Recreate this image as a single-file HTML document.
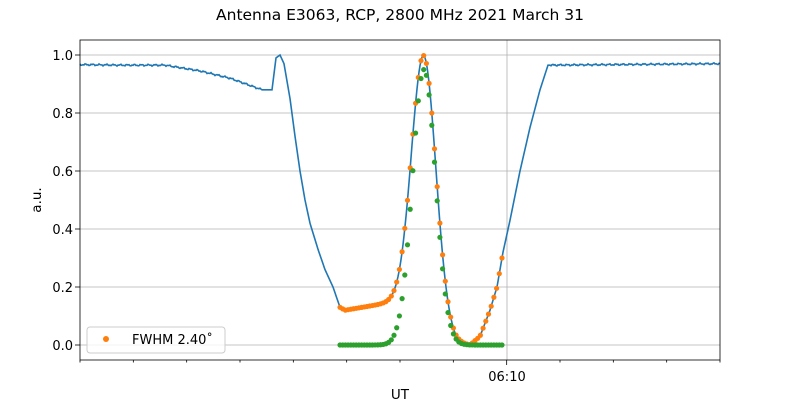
<!DOCTYPE html>
<html><head><meta charset="utf-8"><style>
body{margin:0;background:#fff}
svg{display:block;font-family:"DejaVu Sans","Liberation Sans",sans-serif}
</style></head><body>
<svg id="s" width="800" height="400" viewBox="0 0 800 400" xmlns="http://www.w3.org/2000/svg">
<rect width="800" height="400" fill="#fff"/>
<text x="400" y="20" font-size="15.5" text-anchor="middle">Antenna E3063, RCP, 2800 MHz 2021 March 31</text>
<g stroke="#b0b0b0" stroke-width="0.8">
<line x1="80" x2="720" y1="55" y2="55"/><line x1="80" x2="720" y1="113" y2="113"/>
<line x1="80" x2="720" y1="171" y2="171"/><line x1="80" x2="720" y1="229" y2="229"/>
<line x1="80" x2="720" y1="287" y2="287"/><line x1="80" x2="720" y1="345" y2="345"/>
<line x1="507" x2="507" y1="40" y2="360"/>
</g>
<g font-size="13" text-anchor="end">
<text x="73" y="60">1.0</text><text x="73" y="118">0.8</text><text x="73" y="176">0.6</text>
<text x="73" y="234">0.4</text><text x="73" y="292">0.2</text><text x="73" y="350">0.0</text>
</g>
<g stroke="#000" stroke-width="0.8">
<line x1="75" x2="80" y1="55" y2="55"/><line x1="75" x2="80" y1="113" y2="113"/>
<line x1="75" x2="80" y1="171" y2="171"/><line x1="75" x2="80" y1="229" y2="229"/>
<line x1="75" x2="80" y1="287" y2="287"/><line x1="75" x2="80" y1="345" y2="345"/>
<g id="xt"></g>
</g>
<text x="507" y="381" font-size="13" text-anchor="middle">06:10</text>
<text x="400" y="399" font-size="13.5" text-anchor="middle">UT</text>
<text transform="translate(41,200) rotate(-90)" font-size="13.5" text-anchor="middle">a.u.</text>
<g id="plot"></g>
<rect x="80" y="40" width="640" height="320" fill="none" stroke="#000" stroke-width="0.8"/>
<rect x="87" y="327" width="138" height="26" rx="3" fill="#fff" fill-opacity="0.8" stroke="#ccc"/>
<circle cx="106" cy="339" r="3" fill="#ff7f0e"/>
<text x="132" y="344" font-size="13">FWHM 2.40˚</text>
</svg>
<script>
var NS="http://www.w3.org/2000/svg";
function Y(v){return 345-290*v;}
var kp=[[80,.967],[120,.965],[165,.965],[200,.945],[230,.92],[262,.88],[272,.88],[276,.99],[280,1.0],[284,.97],[290,.85],[295,.72],[300,.6],[305,.5],[310,.42],[318,.33],[325,.26],[333,.2],[340,.13],[345,.12],[405,.155],[412,.15],[440,.05],[455,.01],[470,0],[480,.03],[490,.12],[497,.2],[503,.32],[510,.43],[520,.6],[530,.75],[540,.88],[548,.965],[720,.97]];
function base(x){for(var i=0;i<kp.length-1;i++){if(x>=kp[i][0]&&x<=kp[i+1][0]){var t=(x-kp[i][0])/(kp[i+1][0]-kp[i][0]);return kp[i][1]+t*(kp[i+1][1]-kp[i][1]);}}return .97;}
function G(x,a,s){return a*Math.exp(-(x-424)*(x-424)/(2*s*s));}
function blue(x){var v=base(x)+G(x,0.89,12);if(x<262||x>550)v+=0.002*Math.sin(x*0.9)+0.0015*Math.sin(x*2.3);return v;}
var p="";for(var x=80;x<=720;x+=1){p+=(x==80?"M":"L")+x+","+Y(blue(x)).toFixed(2);}
var g=document.getElementById("plot");
var pa=document.createElementNS(NS,"path");pa.setAttribute("d",p);pa.setAttribute("fill","none");pa.setAttribute("stroke","#1f77b4");pa.setAttribute("stroke-width","1.6");g.appendChild(pa);
function dot(x,v,c){var c1=document.createElementNS(NS,"circle");c1.setAttribute("cx",x);c1.setAttribute("cy",Y(v));c1.setAttribute("r","2.6");c1.setAttribute("fill",c);g.appendChild(c1);}
for(var x=340;x<=503;x+=2.7){dot(x,blue(x),"#ff7f0e");}
for(var x=340;x<=503;x+=2.7){dot(x,G(x,0.95,11.6),"#2ca02c");}
var xt=document.getElementById("xt");
for(var i=0;i<=12;i++){var xx=80+i*640/12;var l=document.createElementNS(NS,"line");l.setAttribute("x1",xx);l.setAttribute("x2",xx);l.setAttribute("y1",360);l.setAttribute("y2",i==8?365:362.5);xt.appendChild(l);}
</script>
</body></html>
